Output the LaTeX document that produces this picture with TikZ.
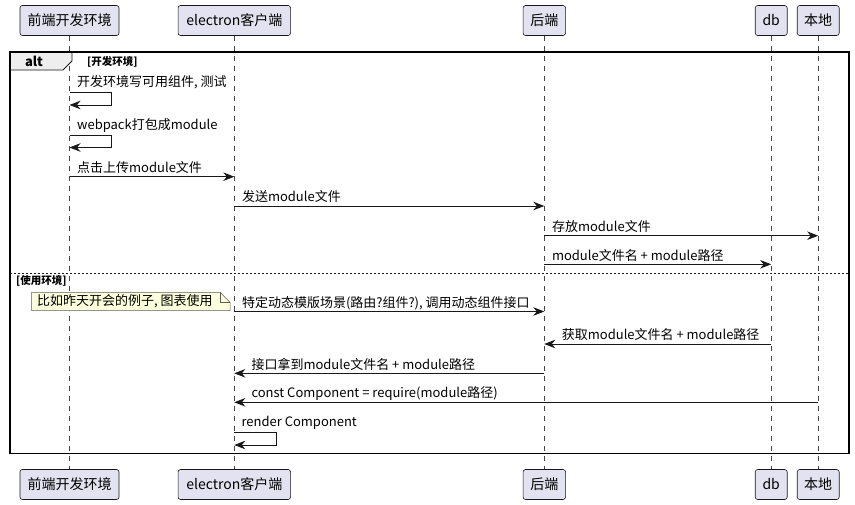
\documentclass[tikz,border=0pt]{standalone}
\usepackage{fontspec}
\setmainfont{Noto Sans CJK SC}
\usetikzlibrary{arrows.meta,calc}
\definecolor{partfill}{HTML}{E2E2F0}
\definecolor{tabfill}{HTML}{EEEEEE}
\definecolor{notefill}{HTML}{FEFFDD}
\definecolor{lineclr}{HTML}{181818}
\begin{document}
\begin{tikzpicture}[x=1pt,y=-1pt,
  part/.style={draw=lineclr, fill=partfill, rounded corners=2.5pt, minimum height=30pt, inner sep=0pt, line width=0.6pt, font=\fontsize{14}{16}\selectfont},
  life/.style={draw=lineclr!80, dash pattern=on 5pt off 5pt, line width=0.5pt},
  msg/.style={draw=lineclr, line width=0.8pt, -{Stealth[length=11pt,width=8.5pt,inset=3.5pt]}},
  lbl/.style={anchor=west, inner sep=0pt, font=\fontsize{13}{15}\selectfont},
  seclbl/.style={anchor=west, inner sep=0pt, font=\fontsize{10.5}{12}\selectfont\bfseries},
  frame/.style={draw=black, line width=1.5pt},
  notebox/.style={draw=lineclr!70, fill=notefill, line width=0.5pt}
]
\useasboundingbox (0,0) rectangle (855,504);
\fill[white] (0,0) rectangle (855,504);

% participants (top)
\node[part, minimum width=99pt]  (fT) at (69.5,20.5) {前端开发环境};
\node[part, minimum width=112.5pt] (eT) at (234.3,20.5) {electron客户端};
\node[part, minimum width=42.5pt] (bT) at (544.3,20.5) {后端};
\node[part, minimum width=32pt]  (dT) at (771.2,20.5) {db};
\node[part, minimum width=42pt]  (lT) at (818.2,20.5) {本地};
% participants (bottom)
\node[part, minimum width=99pt]  (fB) at (69.5,484.5) {前端开发环境};
\node[part, minimum width=112.5pt] (eB) at (234.3,484.5) {electron客户端};
\node[part, minimum width=42.5pt] (bB) at (544.3,484.5) {后端};
\node[part, minimum width=32pt]  (dB) at (771.2,484.5) {db};
\node[part, minimum width=42pt]  (lB) at (818.2,484.5) {本地};

% lifelines
\foreach \p in {f,e,b,d,l} {
  \draw[life] (\p T.south) -- (\p B.north);
}

% alt frame
\coordinate (frTL) at (10,52);
\coordinate (frBR) at (849,453.5);
\fill[tabfill] (10,52) -- (72,52) -- (72,61) -- (63,70) -- (10,70) -- cycle;
\draw[lineclr, line width=0.8pt] (10,70) -- (63,70) -- (72,61) -- (72,52);
\node[anchor=center, inner sep=0pt, font=\fontsize{13}{15}\selectfont\bfseries] (altlbl) at (34,61.5) {alt};
\node[seclbl] (sec1) at (87,61.5) {[开发环境]};
\draw[frame] (frTL) rectangle (frBR);

% row coordinates
\coordinate (r1a) at (0,92.3);  \coordinate (r1b) at (0,105);
\coordinate (r2a) at (0,135);   \coordinate (r2b) at (0,147.5);
\coordinate (r3) at (0,176.7);
\coordinate (r4) at (0,206);
\coordinate (r5) at (0,235.7);
\coordinate (r6) at (0,264.3);
\coordinate (r7) at (0,311.5);
\coordinate (r8) at (0,344);
\coordinate (r9) at (0,373.3);
\coordinate (r10) at (0,402.3);
\coordinate (r11a) at (0,432.7); \coordinate (r11b) at (0,445);

% message 1: self
\node[lbl] (t1) at ($(fT |- r1a)+(7.5,-10)$) {开发环境写可用组件, 测试};
\draw[msg] (fT |- r1a) -- ++(42.3,0) |- (fT |- r1b);
% message 2: self
\node[lbl] (t2) at ($(fT |- r2a)+(7.5,-9.3)$) {webpack打包成module};
\draw[msg] (fT |- r2a) -- ++(42.3,0) |- (fT |- r2b);
% message 3
\node[lbl] (t3) at ($(fT |- r3)+(7.5,-9)$) {点击上传module文件};
\draw[msg] (fT |- r3) -- (eT |- r3);
% message 4
\node[lbl] (t4) at ($(eT |- r4)+(7.5,-9.3)$) {发送module文件};
\draw[msg] (eT |- r4) -- (bT |- r4);
% message 5
\node[lbl] (t5) at ($(bT |- r5)+(7.5,-9)$) {存放module文件};
\draw[msg] (bT |- r5) -- (lT |- r5);
% message 6
\node[lbl] (t6) at ($(bT |- r6)+(7.5,-8.3)$) {module文件名 + module路径};
\draw[msg] (bT |- r6) -- (dT |- r6);

% else separator
\coordinate (sepL) at (10,273.3);
\coordinate (sepR) at (849,273.3);
\draw[lineclr, line width=0.8pt, dash pattern=on 2pt off 2pt] (sepL) -- (sepR);
\node[seclbl] (sec2) at (16,280.7) {[使用环境]};

% note
\draw[notebox] (31.7,292.3) -- (220,292.3) -- (230,302.3) -- (230,310.5) -- (31.7,310.5) -- cycle;
\draw[notebox, fill=none] (220,292.3) -- (220,302.3) -- (230,302.3);
\node[lbl] (note) at (37,301.4) {比如昨天开会的例子, 图表使用};

% message 7
\node[lbl] (t7) at ($(eT |- r7)+(7.5,-8.7)$) {特定动态模版场景(路由?组件?), 调用动态组件接口};
\draw[msg] (eT |- r7) -- (bT |- r7);
% message 8
\node[lbl] (t8) at ($(bT |- r8)+(17.4,-9)$) {获取module文件名 + module路径};
\draw[msg] (dT |- r8) -- (bT |- r8);
% message 9
\node[lbl] (t9) at ($(eT |- r9)+(17,-8.5)$) {接口拿到module文件名 + module路径};
\draw[msg] (bT |- r9) -- (eT |- r9);
% message 10
\node[lbl] (t10) at ($(eT |- r10)+(17,-9)$) {const Component = require(module路径)};
\draw[msg] (lT |- r10) -- (eT |- r10);
% message 11: self
\node[lbl] (t11) at ($(eT |- r11a)+(7,-10)$) {render Component};
\draw[msg] (eT |- r11a) -- ++(42.4,0) |- (eT |- r11b);
\end{tikzpicture}
\end{document}
